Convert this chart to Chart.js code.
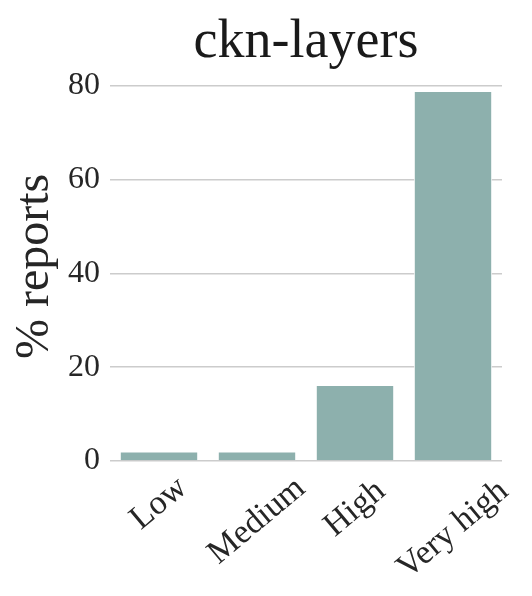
<!DOCTYPE html>
<html>
<head>
<meta charset="utf-8">
<script src="https://cdn.jsdelivr.net/npm/chart.js@4"></script>
<style>
  html, body { margin: 0; padding: 0; background: #fff; }
  #wrap { width: 532px; height: 596px; }
</style>
</head>
<body>
<div id="wrap"><canvas id="chart" width="532" height="596"></canvas></div>
<script>
const CATEGORIES = ["Low", "Medium", "High", "Very high"];
const REPORT_PCT = [2.0, 2.0, 16.2, 78.9];
const Y_TICKS = [0, 20, 40, 60, 80];

const SERIF = "'Liberation Serif', 'DejaVu Serif', serif";
const TEXT_COLOR = "#262626";
const BAR_COLOR = "#8db0ad";
const LABEL_ANGLE = 40;

// draws the category labels rotated and centred under each bar (matplotlib style)
const centredRotatedLabels = {
  id: "centredRotatedLabels",
  afterDraw(chart) {
    const { ctx, scales: { x }, chartArea } = chart;
    const a = (LABEL_ANGLE * Math.PI) / 180;
    ctx.save();
    ctx.font = `34px ${SERIF}`;
    ctx.fillStyle = TEXT_COLOR;
    ctx.textAlign = "center";
    ctx.textBaseline = "middle";
    CATEGORIES.forEach((label, i) => {
      const m = ctx.measureText(label);
      const w = m.actualBoundingBoxLeft + m.actualBoundingBoxRight;
      const h = m.actualBoundingBoxAscent + m.actualBoundingBoxDescent;
      const cx = x.getPixelForTick(i);
      const cy = chartArea.bottom + 14 + (w * Math.sin(a) + h * Math.cos(a)) / 2;
      ctx.save();
      ctx.translate(cx, cy);
      ctx.rotate(-a);
      ctx.fillText(label, 0, 0);
      ctx.restore();
    });
    ctx.restore();
  },
};

new Chart(document.getElementById("chart"), {
  type: "bar",
  data: {
    labels: CATEGORIES,
    datasets: [{
      data: REPORT_PCT,
      backgroundColor: BAR_COLOR,
      borderColor: "#ffffff",
      borderWidth: 1,
      barPercentage: 0.8,
      categoryPercentage: 1,
    }],
  },
  options: {
    responsive: false,
    animation: false,
    layout: { padding: { left: 0, right: 30, top: 0, bottom: 0 } },
    scales: {
      x: {
        grid: { display: false },
        border: { display: false },
        ticks: { display: false },
        afterFit: (s) => { s.height = 135; },
      },
      y: {
        min: 0,
        max: 83,
        afterBuildTicks: (s) => { s.ticks = Y_TICKS.map((v) => ({ value: v })); },
        ticks: {
          padding: 10,
          color: TEXT_COLOR,
          font: { family: SERIF, size: 32 },
        },
        grid: { color: "#cccccc", lineWidth: 1.6, drawTicks: false },
        border: { display: false },
        title: {
          display: true,
          text: "% reports",
          color: TEXT_COLOR,
          font: { family: SERIF, size: 48 },
          padding: { top: 7, bottom: 0 },
        },
        afterFit: (s) => { s.width = 110; },
      },
    },
    plugins: {
      legend: { display: false },
      tooltip: { enabled: false },
      title: {
        display: true,
        text: "ckn-layers",
        fullSize: false,
        color: "#1a1a1a",
        font: { family: SERIF, size: 54, weight: "normal", lineHeight: 1.07 },
        padding: { top: 14, bottom: 0 },
      },
    },
  },
  plugins: [centredRotatedLabels],
});
</script>
</body>
</html>
